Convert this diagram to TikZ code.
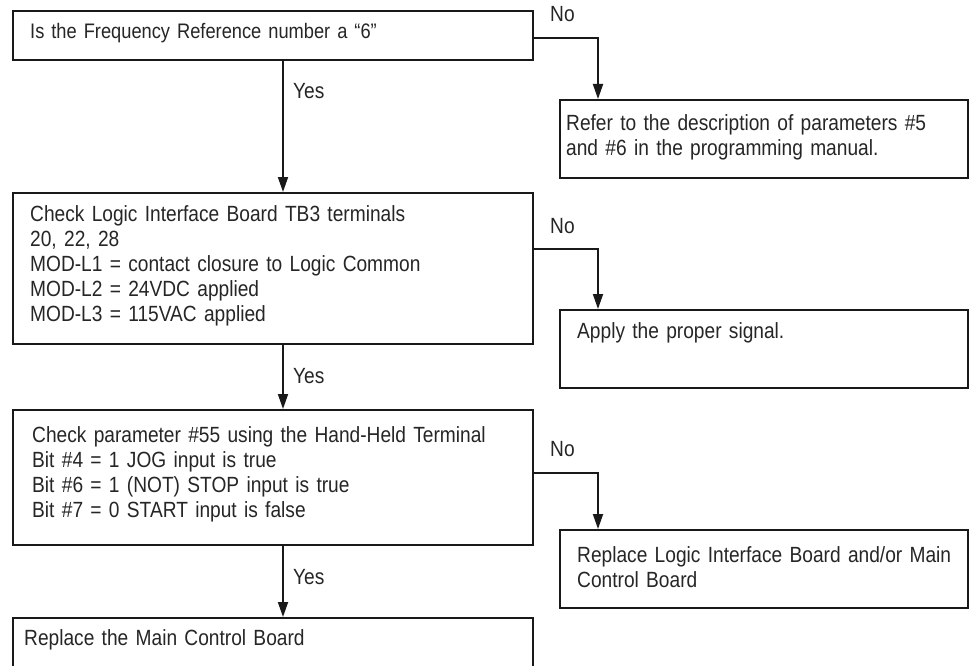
\documentclass[tikz,border=0pt]{standalone}
\usepackage{fontspec}
\setmainfont[FakeStretch=0.87]{Liberation Sans}
\usetikzlibrary{arrows.meta}
\begin{document}
\begin{tikzpicture}[x=1pt,y=-1pt,
  box/.style={draw=black!90, line width=1.8pt, rectangle, inner sep=0pt, anchor=north west},
  txt/.style={inner sep=0pt, anchor=base west, align=left, text width=495pt,
    font=\fontsize{22}{25}\selectfont, text=black!85},
  lbl/.style={inner sep=0pt, anchor=base west, font=\fontsize{22}{25}\selectfont, text=black!85},
  arr/.style={draw=black!90, line width=1.8pt, -{Triangle[length=15pt,width=10pt]}},
]
\useasboundingbox (0,0) rectangle (969,666);
\clip (0,0) rectangle (969,666);
\fill[white] (0,0) rectangle (969,666);

% boxes
\node[box, minimum width=520pt, minimum height=49pt]  (A) at (12,10)  {};
\node[box, minimum width=408pt, minimum height=78pt]  (B) at (559,99) {};
\node[box, minimum width=520pt, minimum height=151pt] (C) at (12,192) {};
\node[box, minimum width=408pt, minimum height=78pt]  (D) at (559,309) {};
\node[box, minimum width=520pt, minimum height=135pt] (E) at (12,409) {};
\node[box, minimum width=408pt, minimum height=78pt]  (F) at (559,529) {};
\node[box, minimum width=520pt, minimum height=80pt]  (G) at (12,617) {};

% texts
\node[txt, font=\fontsize{21}{25}\selectfont] (At) at (30,39) {Is the Frequency Reference number a “6”};
\node[txt, text width=400pt] (Bt) at (566,131) {Refer to the description of parameters \#5\\and \#6 in the programming manual.};
\node[txt] (Ct) at (30,221) {Check Logic Interface Board TB3 terminals\\20, 22, 28\\MOD-L1 = contact closure to Logic Common\\MOD-L2 = 24VDC applied\\MOD-L3 = 115VAC applied};
\node[txt, text width=390pt] (Dt) at (577,338) {Apply the proper signal.};
\node[txt] (Et) at (32,442) {Check parameter \#55 using the Hand-Held Terminal\\Bit \#4 = 1 JOG input is true\\Bit \#6 = 1 (NOT) STOP input is true\\Bit \#7 = 0 START input is false};
\node[txt, text width=390pt] (Ft) at (577,562) {Replace Logic Interface Board and/or Main\\Control Board};
\node[txt] (Gt) at (24,645) {Replace the Main Control Board};

% connectors
\draw[arr] (283,0 |- A.south) -- (283,0 |- C.north);
\draw[arr] (283,0 |- C.south) -- (283,0 |- E.north);
\draw[arr] (283,0 |- E.south) -- (283,0 |- G.north);
\draw[arr] (A.east |- 0,38)  -| (598,0 |- B.north);
\draw[arr] (C.east |- 0,249) -| (598,0 |- D.north);
\draw[arr] (E.east |- 0,473) -| (598,0 |- F.north);

% labels
\node[lbl] (y1) at (293,99)  {Yes};
\node[lbl] (y2) at (293,383) {Yes};
\node[lbl] (y3) at (293,584) {Yes};
\node[lbl] (n1) at (550,22)  {No};
\node[lbl] (n2) at (550,233) {No};
\node[lbl] (n3) at (550,456) {No};
\end{tikzpicture}
\end{document}
